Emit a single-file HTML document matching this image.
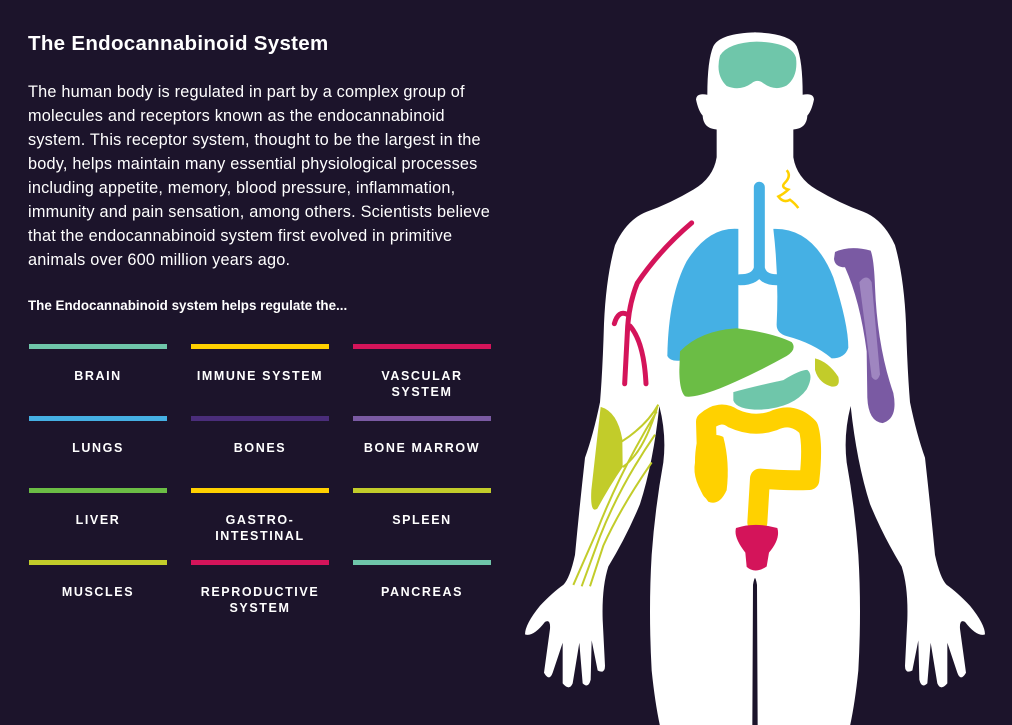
<!DOCTYPE html>
<html><head><meta charset="utf-8"><style>
html,body{margin:0;padding:0}
body{width:1012px;height:725px;background:#1c142b;position:relative;overflow:hidden;font-family:"Liberation Sans",sans-serif;color:#fff}
h1{position:absolute;left:28px;top:32px;margin:0;font-size:20.5px;font-weight:bold;letter-spacing:0.3px}
.p{position:absolute;left:28px;top:80px;font-size:16.3px;line-height:24px;letter-spacing:0.2px;white-space:nowrap}
.sub{position:absolute;left:28px;top:298px;font-size:13.4px;font-weight:bold}
.cell{position:absolute;width:138px;text-align:center;font-size:12.5px;font-weight:bold;letter-spacing:1.6px;line-height:16px}
.bar{height:5px;margin-bottom:19px}
</style></head><body>
<h1>The Endocannabinoid System</h1>
<div class="p">The human body is regulated in part by a complex group of<br>molecules and receptors known as the endocannabinoid<br>system. This receptor system, thought to be the largest in the<br>body, helps maintain many essential physiological processes<br>including appetite, memory, blood pressure, inflammation,<br>immunity and pain sensation, among others. Scientists believe<br>that the endocannabinoid system first evolved in primitive<br>animals over 600 million years ago.</div>
<div class="sub">The Endocannabinoid system helps regulate the...</div>

<div class="cell" style="left:29px;top:344px"><div class="bar" style="background:#6fc6aa"></div>BRAIN</div>
<div class="cell" style="left:191px;top:344px"><div class="bar" style="background:#ffd100"></div>IMMUNE SYSTEM</div>
<div class="cell" style="left:353px;top:344px"><div class="bar" style="background:#d4145a"></div>VASCULAR<br>SYSTEM</div>
<div class="cell" style="left:29px;top:416px"><div class="bar" style="background:#45b0e4"></div>LUNGS</div>
<div class="cell" style="left:191px;top:416px"><div class="bar" style="background:#4a2d7a"></div>BONES</div>
<div class="cell" style="left:353px;top:416px"><div class="bar" style="background:#7a5aa3"></div>BONE MARROW</div>
<div class="cell" style="left:29px;top:488px"><div class="bar" style="background:#6bbd45"></div>LIVER</div>
<div class="cell" style="left:191px;top:488px"><div class="bar" style="background:#ffd100"></div>GASTRO-<br>INTESTINAL</div>
<div class="cell" style="left:353px;top:488px"><div class="bar" style="background:#c2cc2a"></div>SPLEEN</div>
<div class="cell" style="left:29px;top:560px"><div class="bar" style="background:#c2cc2a"></div>MUSCLES</div>
<div class="cell" style="left:191px;top:560px"><div class="bar" style="background:#d4145a"></div>REPRODUCTIVE<br>SYSTEM</div>
<div class="cell" style="left:353px;top:560px"><div class="bar" style="background:#6fc6aa"></div>PANCREAS</div>

<svg width="1012" height="725" style="position:absolute;left:0;top:0">
<g transform="translate(520,0) scale(0.33333,0.4624)">
<g id="half" fill="#fff">
<path d="M707,70 Q600,72 580,100 Q562,130 562,205 Q530,200 528,215 Q535,240 548,250 Q550,278 590,280 L590,340 Q580,385 520,410 Q450,440 380,458 Q320,475 285,530 Q258,600 252,700 Q248,800 240,870 Q220,940 195,990 Q178,1100 165,1200 Q150,1250 130,1265 Q100,1280 60,1310 Q15,1350 15,1372 Q40,1378 75,1345 Q92,1338 90,1360 L72,1455 Q88,1475 98,1455 L128,1390 L128,1478 Q148,1495 158,1478 L178,1390 L188,1478 Q205,1490 212,1470 L215,1385 L233,1450 Q255,1458 255,1440 L248,1340 Q245,1270 265,1225 Q320,1160 360,1090 Q400,1000 418,878 Q440,940 430,1000 Q405,1100 395,1200 Q385,1320 395,1450 Q405,1520 420,1570 L697,1570 L699,1265 Q702,1250 707,1248 Z"/>
</g>
<use href="#half" transform="translate(1410,0) scale(-1,1)"/>
<path fill="#6fc6aa" d="M600,120 Q625,92 710,90 Q815,92 828,125 Q835,165 800,185 Q765,198 730,180 Q712,170 695,180 Q660,198 620,186 Q585,162 600,120Z"/>
<path fill="none" stroke="#ffd100" stroke-width="2.5" vector-effect="non-scaling-stroke" d="M800,368 Q815,380 795,395 Q780,405 805,410 Q790,420 775,425 Q790,440 810,432 Q825,440 835,450"/>
<path fill="#45b0e4" d="M655,495 Q565,490 500,565 Q445,640 442,770 Q450,782 480,780 L655,742 Z"/>
<path fill="#45b0e4" d="M760,495 Q880,492 940,600 Q985,700 985,752 Q975,775 935,775 Q880,742 800,727 Q768,720 770,700 Q777,600 760,495Z"/>
<path fill="none" stroke="#45b0e4" stroke-width="11" stroke-linecap="round" stroke-linejoin="round" vector-effect="non-scaling-stroke" d="M718,405 L718,580 Q710,605 660,605 M718,580 Q726,605 770,605"/>
<path fill="none" stroke="#d4145a" stroke-width="5" stroke-linecap="round" vector-effect="non-scaling-stroke" d="M515,482 Q420,540 352,612 Q325,660 322,720 L314,830 M322,680 Q295,670 283,700 M330,705 Q372,740 378,830"/>
<path fill="#7a5aa3" d="M945,545 Q990,530 1052,542 Q1062,560 1065,620 Q1072,750 1120,850 Q1135,905 1088,915 Q1045,912 1042,860 L1040,760 Q1020,650 975,578 Q945,578 942,560Z"/>
<path fill="#9f86c0" d="M1018,610 Q1040,590 1055,610 L1080,810 Q1070,830 1055,815 Z"/>
<path fill="#6bbd45" d="M480,760 Q540,715 650,710 Q760,720 815,740 Q832,755 800,770 Q700,810 600,840 Q520,862 495,857 Q478,845 478,800Z"/>
<path fill="#c2cc2a" d="M885,775 Q925,782 955,815 Q962,838 935,836 Q895,828 885,800Z"/>
<path fill="#6fc6aa" d="M640,848 Q700,836 790,822 Q840,800 862,800 Q882,812 860,842 Q820,882 720,886 Q650,886 640,866Z"/>
<path fill="none" stroke="#ffd100" stroke-width="20" stroke-linecap="round" stroke-linejoin="round" vector-effect="non-scaling-stroke" d="M575,1060 Q545,1020 560,960 L558,912 Q600,885 640,905 Q700,925 760,910 Q820,890 865,925 Q880,960 868,1038 Q800,1040 720,1035 L712,1130"/>
<path fill="#ffd100" d="M525,1000 Q555,925 610,945 Q630,1000 620,1060 Q598,1095 565,1085 Q515,1040 525,1000Z"/>
<path fill="#d4145a" d="M648,1142 Q705,1128 772,1142 Q782,1165 747,1195 L740,1225 Q705,1242 680,1226 L676,1195 Q640,1162 648,1142Z"/>
<path fill="#c2cc2a" d="M242,880 Q292,890 307,950 L308,1010 Q270,1050 232,1100 Q210,1112 214,1060 Z"/>
<path fill="none" stroke="#c2cc2a" stroke-width="2" vector-effect="non-scaling-stroke" d="M415,875 Q380,920 305,955 M412,880 Q370,980 308,1010 M410,890 Q300,1020 230,1150 L160,1265 M405,940 Q300,1050 240,1160 L185,1268 M395,1000 Q300,1100 250,1180 L210,1268"/>
</g>
</svg>
</body></html>
